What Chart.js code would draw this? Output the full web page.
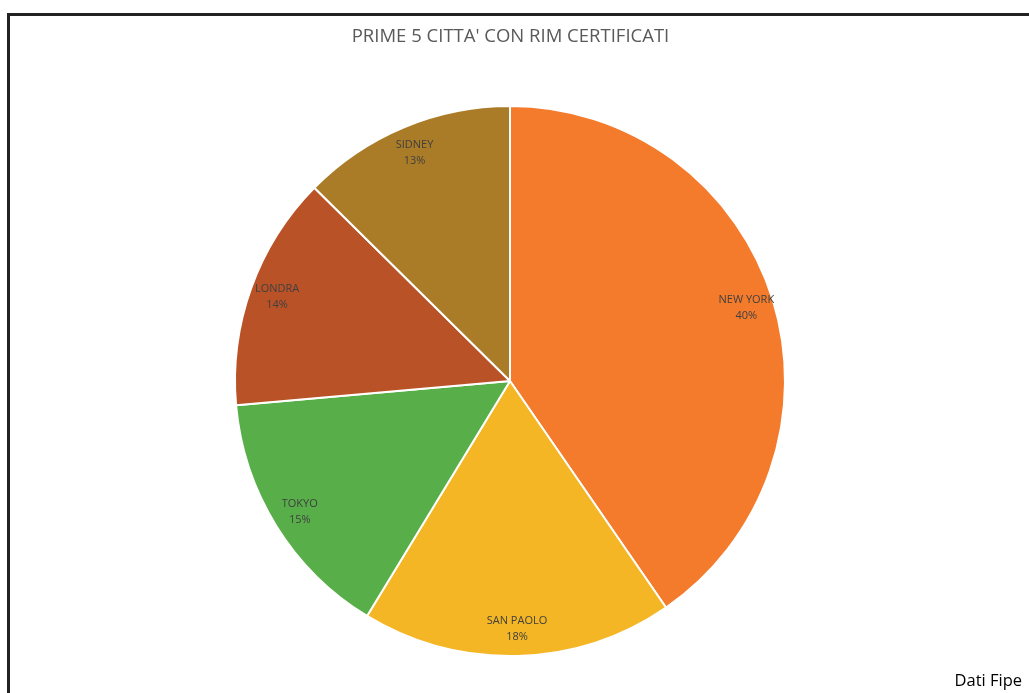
<!DOCTYPE html>
<html>
<head>
<meta charset="utf-8">
<script src="https://cdn.jsdelivr.net/npm/chart.js@4"></script>
<style>
  html, body { margin: 0; padding: 0; background: #fff; }
  #wrap { position: relative; width: 1029px; height: 693px; overflow: hidden; }
  #frame { position: absolute; left: 7px; top: 13px; width: 1040px; height: 700px;
           border-left: 3px solid #222; border-top: 3px solid #222; box-sizing: border-box; }
  #title { position: absolute; left: 0; width: 1021px; top: 22px; line-height: 26px; text-align: center;
           font-family: "Open Sans", sans-serif; font-size: 18.5px; color: #595959; }
  #fonte { position: absolute; right: 7px; top: 668px; line-height: 24px;
           font-family: "Open Sans", sans-serif; font-size: 16.5px; color: #000; }
  canvas { position: absolute; left: 0; top: 0; }
</style>
</head>
<body>
<div id="wrap">
  <div id="frame"></div>
  <canvas id="torta" width="1029" height="693"></canvas>
  <div id="title">PRIME 5 CITTA' CON RIM CERTIFICATI</div>
  <div id="fonte">Dati Fipe</div>
</div>
<script>
// ======= Dati =======
const citta = ['NEW YORK', 'SAN PAOLO', 'TOKYO', 'LONDRA', 'SIDNEY'];
const valori = [40.4, 18.3, 14.9, 13.8, 12.6];
const colori = ['#F47B2C', '#F4B624', '#58AF4A', '#BA5227', '#AA7C27'];

// ======= Etichette dentro le fette =======
const etichette = {
    id: 'etichette',
    afterDatasetsDraw(chart) {
        const ctx = chart.ctx;
        const meta = chart.getDatasetMeta(0);
        const totale = valori.reduce((a, b) => a + b, 0);
        ctx.save();
        ctx.font = '11px "Open Sans", sans-serif';
        ctx.fillStyle = '#404040';
        ctx.textAlign = 'center';
        ctx.textBaseline = 'middle';
        meta.data.forEach((arc, i) => {
            const p = arc.getProps(['x', 'y', 'startAngle', 'endAngle', 'outerRadius'], true);
            const a = (p.startAngle + p.endAngle) / 2;
            const r = p.outerRadius * 0.9;
            const x = p.x + Math.cos(a) * r;
            const y = p.y + Math.sin(a) * r;
            ctx.fillText(citta[i], x, y - 8);
            ctx.fillText(Math.round(valori[i] / totale * 100) + '%', x, y + 8);
        });
        ctx.restore();
    }
};

new Chart(document.getElementById('torta'), {
    type: 'pie',
    data: {
        labels: citta,
        datasets: [{
            data: valori,
            backgroundColor: colori,
            borderColor: '#ffffff',
            borderWidth: 2,
            radius: 275
        }]
    },
    options: {
        responsive: false,
        animation: false,
        layout: { padding: { left: 0, right: 9, top: 106, bottom: 37 } },
        plugins: {
            legend: { display: false },
            title: { display: false },
            tooltip: { enabled: false }
        }
    },
    plugins: [etichette]
});
</script>
</body>
</html>
